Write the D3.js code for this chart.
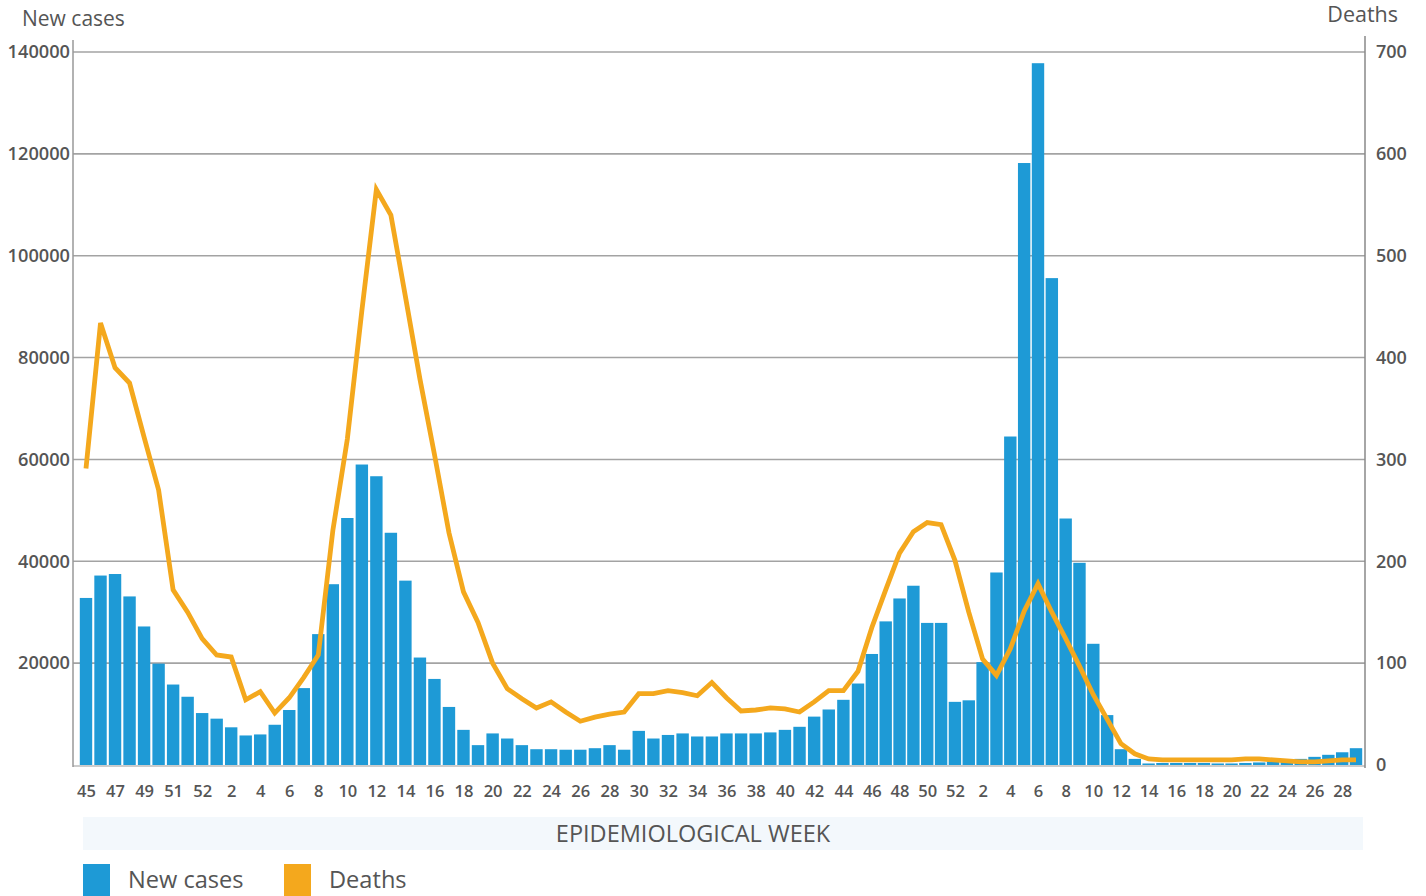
<!DOCTYPE html>
<html>
<head>
<meta charset="utf-8">
<script src="https://cdn.jsdelivr.net/npm/d3@7"></script>
<style>
  body { margin: 0; background: #fff; }
  svg { display: block; font-family: "Open Sans", sans-serif; }
</style>
</head>
<body>
<svg></svg>
<script>
// epidemiological weeks: 2020 w45..w53, 2021 w1..w52, 2022 w1..w29
const weeks = [45, 46, 47, 48, 49, 50, 51, 52, 53,
    1, 2, 3, 4, 5, 6, 7, 8, 9, 10, 11, 12, 13, 14, 15, 16, 17, 18, 19, 20, 21, 22, 23, 24, 25, 26,
    27, 28, 29, 30, 31, 32, 33, 34, 35, 36, 37, 38, 39, 40, 41, 42, 43, 44, 45, 46, 47, 48, 49, 50, 51, 52,
    1, 2, 3, 4, 5, 6, 7, 8, 9, 10, 11, 12, 13, 14, 15, 16, 17, 18, 19, 20, 21, 22, 23, 24, 25, 26, 27, 28, 29];

// labels shown under every second bar
const xTickLabels = ["45", "47", "49", "51", "52",
    "2", "4", "6", "8", "10", "12", "14", "16", "18", "20", "22", "24", "26", "28", "30",
    "32", "34", "36", "38", "40", "42", "44", "46", "48", "50", "52",
    "2", "4", "6", "8", "10", "12", "14", "16", "18", "20", "22", "24", "26", "28"];

const newCases = [32800, 37200, 37500, 33100, 27200, 19900, 15800, 13400, 10200,
    9100, 7400, 5800, 6000, 7900, 10800, 15100, 25700, 35500, 48500, 59000, 56700, 45600, 36200, 21100, 16900, 11400,
    6900, 3900, 6200, 5200, 3900, 3100, 3100, 3000, 3000, 3300, 3900, 3000, 6700, 5200, 5900, 6200, 5600, 5600,
    6200, 6200, 6200, 6400, 6900, 7500, 9500, 10900, 12800, 16000, 21800, 28200, 32700, 35200, 27900, 27900, 12400,
    12700, 20200, 37800, 64500, 118200, 137800, 95600, 48400, 39700, 23800, 9800, 3100, 1200, 300, 400, 400, 400,
    400, 300, 300, 400, 500, 700, 900, 1200, 1600, 2000, 2500, 3300];

const deaths = [291, 434, 390, 375, 322, 270, 172, 150, 124,
    108, 106, 64, 72, 51, 66, 86, 108, 230, 320, 446, 565, 540, 460, 379, 305, 228,
    170, 140, 100, 75, 65, 56, 62, 52, 43, 47, 50, 52, 70, 70, 73, 71, 68, 81,
    66, 53, 54, 56, 55, 52, 62, 73, 73, 92, 135, 172, 208, 229, 238, 236, 201,
    150, 104, 88, 114, 151, 178, 150, 124, 97, 69, 45, 21, 11, 6, 5, 5, 5,
    5, 5, 5, 6, 6, 5, 4, 3, 3, 4, 5, 5];

const casesTicks = [20000, 40000, 60000, 80000, 100000, 120000, 140000];
const deathsTicks = [0, 100, 200, 300, 400, 500, 600, 700];

const width = 1426;
const height = 896;
const plotLeft = 73;
const plotRight = 1365;
const plotTop = 52;
const plotBottom = 765;
const barWidth = 12.4;

const blue = "#1e9ad6";
const orange = "#f4a81d";
const textColor = "#555";

let svg = d3.select("svg").attr("width", width).attr("height", height);

// bar centres; the original spacing is a little wider on the left than on the right
let scaleX = d3.scaleLinear()
    .domain([0, 27, 53, 66, weeks.length - 1])
    .range([86, 478, 858, 1038, 1356]);

let scaleY = d3.scaleLinear().domain([0, 140000]).range([plotBottom, plotTop]);
let scaleY2 = d3.scaleLinear().domain([0, 700]).range([plotBottom, plotTop]);

// grid lines
svg.append("g")
    .selectAll("line")
    .data(casesTicks)
    .enter()
    .append("line")
    .attr("x1", plotLeft)
    .attr("x2", plotRight)
    .attr("y1", (d) => scaleY(d))
    .attr("y2", (d) => scaleY(d))
    .attr("stroke", "#a3a3a3")
    .attr("stroke-width", 1.6);

svg.append("line")
    .attr("x1", plotLeft).attr("x2", plotRight)
    .attr("y1", plotBottom + 1).attr("y2", plotBottom + 1)
    .attr("stroke", "#bbb").attr("stroke-width", 1.5);

// bars
svg.append("g")
    .selectAll("rect")
    .data(newCases)
    .enter()
    .append("rect")
    .attr("x", (d, i) => scaleX(i) - barWidth / 2)
    .attr("y", (d) => scaleY(d))
    .attr("width", barWidth)
    .attr("height", (d) => plotBottom - scaleY(d))
    .attr("fill", blue);

// deaths line
let line = d3.line()
    .x((d, i) => scaleX(i))
    .y((d) => scaleY2(d));

svg.append("path")
    .datum(deaths)
    .attr("d", line)
    .attr("fill", "none")
    .attr("stroke", orange)
    .attr("stroke-width", 4.8)
    .attr("stroke-linejoin", "miter");

// axes lines
svg.append("line")
    .attr("x1", plotLeft).attr("x2", plotLeft)
    .attr("y1", 40).attr("y2", plotBottom + 2)
    .attr("stroke", "#999").attr("stroke-width", 1.5);

svg.append("line")
    .attr("x1", plotRight).attr("x2", plotRight)
    .attr("y1", 36).attr("y2", plotBottom + 3)
    .attr("stroke", "#888").attr("stroke-width", 1.5);

// left tick labels
let axisLeft = d3.axisLeft(scaleY).tickValues(casesTicks).tickSize(0).tickPadding(3)
    .tickFormat(d3.format("d"));
let gL = svg.append("g").attr("transform", `translate(${plotLeft}, 0)`).call(axisLeft);
gL.select(".domain").remove();
gL.selectAll("text")
    .attr("font-family", "Open Sans")
    .attr("font-size", 18.2)
    .attr("font-weight", 600)
    .attr("fill", textColor);

// right tick labels
let axisRight = d3.axisRight(scaleY2).tickValues(deathsTicks).tickSize(0).tickPadding(11);
let gR = svg.append("g").attr("transform", `translate(${plotRight}, 0)`).call(axisRight);
gR.select(".domain").remove();
gR.selectAll("text")
    .attr("font-family", "Open Sans")
    .attr("font-size", 18)
    .attr("font-weight", 600)
    .attr("fill", textColor);

// bottom labels, every second week
let evenIdx = d3.range(0, weeks.length, 2);
let axisBottom = d3.axisBottom(scaleX).tickValues(evenIdx).tickSize(0).tickPadding(20)
    .tickFormat((d) => xTickLabels[d / 2]);
let gB = svg.append("g").attr("transform", `translate(0, ${plotBottom})`).call(axisBottom);
gB.select(".domain").remove();
gB.selectAll("text")
    .attr("font-family", "Open Sans")
    .attr("font-size", 16.5)
    .attr("font-weight", 600)
    .attr("fill", textColor);

// axis titles
svg.append("text")
    .attr("x", 22).attr("y", 26)
    .attr("font-size", 21)
    .attr("fill", textColor)
    .text("New cases");

svg.append("text")
    .attr("x", 1398).attr("y", 22)
    .attr("text-anchor", "end")
    .attr("font-size", 21.5)
    .attr("fill", textColor)
    .text("Deaths");

// x title band
svg.append("rect")
    .attr("x", 83).attr("y", 817)
    .attr("width", 1280).attr("height", 33)
    .attr("fill", "#f3f8fc");

svg.append("text")
    .attr("x", 693).attr("y", 842)
    .attr("text-anchor", "middle")
    .attr("font-size", 23.5)
    .attr("fill", textColor)
    .text("EPIDEMIOLOGICAL WEEK");

// legend
const legendItems = [
    { label: "New cases", color: blue, x: 83 },
    { label: "Deaths", color: orange, x: 284 },
];
let lg = svg.append("g")
    .selectAll("g")
    .data(legendItems)
    .enter()
    .append("g")
    .attr("transform", (d) => `translate(${d.x}, 864)`);
lg.append("rect")
    .attr("width", 27).attr("height", 32)
    .attr("fill", (d) => d.color);
lg.append("text")
    .attr("x", 45).attr("y", 24)
    .attr("font-size", 23.6)
    .attr("fill", textColor)
    .text((d) => d.label);
</script>
</body>
</html>
